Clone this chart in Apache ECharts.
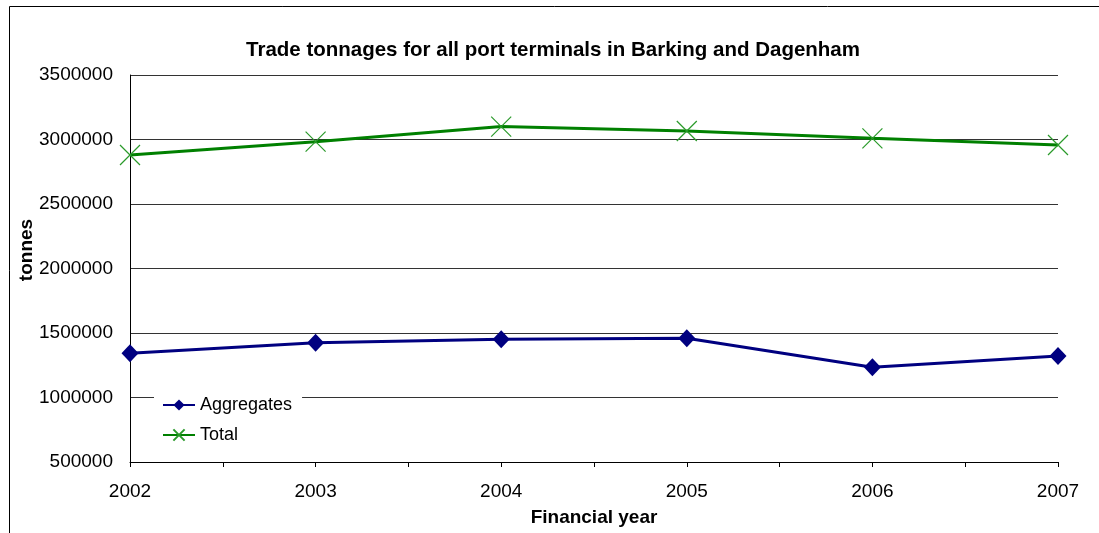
<!DOCTYPE html>
<html>
<head>
<meta charset="utf-8">
<script src="https://cdn.jsdelivr.net/npm/echarts@6/dist/echarts.min.js"></script>
<style>
html,body{margin:0;padding:0;background:#fff;}
#chart{width:1099px;height:533px;}
</style>
</head>
<body>
<div id="chart"></div>
<script>
const years = [2002, 2003, 2004, 2005, 2006, 2007];
const aggregates = [1343000, 1425000, 1451000, 1459000, 1234000, 1322000];
const total = [2880000, 2983000, 3100000, 3066000, 3009000, 2957000];
const yTicks = [500000, 1000000, 1500000, 2000000, 2500000, 3000000, 3500000];

const font = '"Liberation Sans", Arial, sans-serif';
const chart = echarts.init(document.getElementById('chart'), null, {renderer: 'canvas'});
const pair = arr => years.map((y, i) => [y, arr[i]]);

chart.setOption({
  animation: false,
  backgroundColor: '#fff',
  textStyle: {fontFamily: font},
  graphic: [{
    type: 'rect', silent: true, z: -1,
    shape: {x: 9.5, y: 6.5, width: 1200, height: 600},
    style: {fill: 'none', stroke: '#000', lineWidth: 1}
  }, {
    type: 'text', silent: true,
    x: 27, y: 250, rotation: Math.PI / 2,
    style: {
      text: 'tonnes', fill: '#000', align: 'center', verticalAlign: 'middle',
      font: 'bold 19px "Liberation Sans", Arial, sans-serif'
    }
  }],
  title: {
    text: 'Trade tonnages for all port terminals in Barking and Dagenham',
    left: 548, top: 35, textAlign: 'center',
    textStyle: {fontFamily: font, fontSize: 20.5, fontWeight: 'bold', color: '#000'}
  },
  grid: {left: 130, right: 41, top: 75, bottom: 71, containLabel: false},
  legend: {
    orient: 'vertical',
    left: 154, top: 388,
    padding: [8, 10, 8, 8],
    itemWidth: 32, itemHeight: 14, itemGap: 12,
    backgroundColor: '#fff',
    textStyle: {fontFamily: font, fontSize: 18, color: '#000'},
    data: ['Aggregates', 'Total']
  },
  xAxis: {
    type: 'value',
    min: years[0], max: years[years.length - 1], interval: 0.5,
    name: 'Financial year', nameLocation: 'middle', nameGap: 46,
    nameTextStyle: {fontFamily: font, fontSize: 19, fontWeight: 'bold', color: '#000'},
    axisLine: {show: true, lineStyle: {color: '#000', width: 1}},
    axisTick: {show: true, inside: false, length: 5, lineStyle: {color: '#000'}},
    axisLabel: {
      margin: 20, fontFamily: font, fontSize: 19, color: '#000',
      formatter: v => (Number.isInteger(v) ? String(v) : '')
    },
    splitLine: {show: false}
  },
  yAxis: {
    type: 'value',
    min: yTicks[0], max: yTicks[yTicks.length - 1], interval: 500000,
    axisLine: {show: true, lineStyle: {color: '#000', width: 1}},
    axisTick: {show: false},
    axisLabel: {margin: 17, fontFamily: font, fontSize: 19, color: '#000', formatter: v => String(v)},
    splitLine: {show: true, lineStyle: {color: '#333', width: 1}}
  },
  series: [
    {
      name: 'Aggregates', type: 'line', data: pair(aggregates),
      symbol: 'diamond', symbolSize: [17, 18],
      lineStyle: {color: '#000080', width: 3},
      itemStyle: {color: '#000080'},
      z: 3
    },
    {
      name: 'Total', type: 'line', data: pair(total),
      symbol: 'path://M0,0L10,10M10,0L0,10', symbolSize: 20,
      lineStyle: {color: '#008000', width: 3},
      itemStyle: {color: 'rgba(0,0,0,0)', borderColor: '#2a9a2a', borderWidth: 1.2},
      z: 2
    }
  ]
});
</script>
</body>
</html>
